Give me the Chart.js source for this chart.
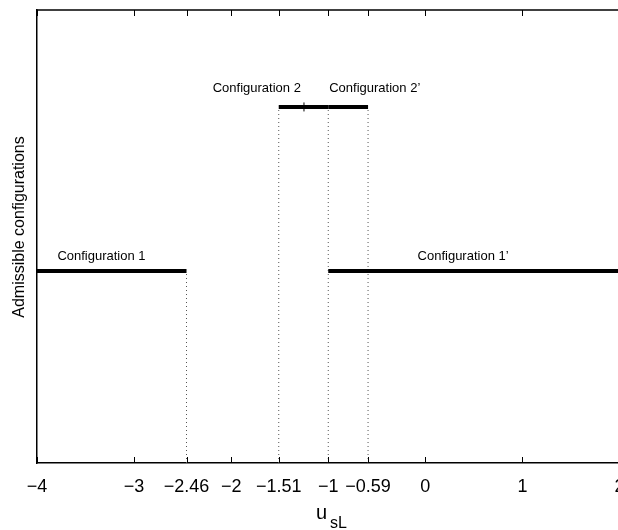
<!DOCTYPE html>
<html>
<head>
<meta charset="utf-8">
<script src="https://cdn.jsdelivr.net/npm/chart.js@4/dist/chart.umd.min.js"></script>
<style>
  body { margin: 0; background: #fff; }
  #wrap { width: 618px; height: 530px; overflow: hidden; }
</style>
</head>
<body>
<div id="wrap"><canvas id="chart" width="625" height="530"></canvas></div>
<script>
// tick positions on the u_sL axis
const xTicks = [-4, -3, -2.46, -2, -1.51, -1, -0.59, 0, 1, 2];

// admissible ranges
const segmentNames = ['Configuration 1', 'Configuration 1\u2019', 'Configuration 2', 'Configuration 2\u2019'];
const segmentStart = [-4, -1, -1.51, -1];
const segmentEnd = [-2.46, 2, -1, -0.59];
const segmentLevel = [0.424, 0.424, 0.786, 0.786];

// label anchors (left edge, vertical middle)
const labelX = [-3.79, -0.08, -2.19, -0.99];
const labelY = [0.457, 0.457, 0.826, 0.826];

// dotted drop lines
const dropX = [-2.46, -1.51, -1, -0.59];
const dropTop = [0.424, 0.786, 0.786, 0.786];

// small mark on configuration 2
const markX = [-1.25];
const markY = [0.786];

const fontFamily = '"Liberation Sans", Arial, Helvetica, sans-serif';

function fmt(v) {
  return v < 0 ? '\u2212' + String(Math.abs(v)) : String(v);
}

const datasets = [];
segmentStart.forEach((s, i) => {
  datasets.push({
    label: segmentNames[i],
    data: [{x: s, y: segmentLevel[i]}, {x: segmentEnd[i], y: segmentLevel[i]}],
    showLine: true,
    borderColor: '#000',
    borderWidth: 4,
    pointRadius: 0,
    borderCapStyle: 'butt'
  });
});
dropX.forEach((x, i) => {
  datasets.push({
    label: 'drop' + i,
    data: [{x: x, y: 0}, {x: x, y: dropTop[i]}],
    showLine: true,
    borderColor: '#555',
    borderWidth: 1,
    borderDash: [1, 3],
    pointRadius: 0
  });
});
datasets.push({
  label: 'mark',
  data: markX.map((x, i) => ({x: x, y: markY[i]})),
  showLine: false,
  pointStyle: 'line',
  rotation: 90,
  pointRadius: 4.5,
  borderColor: '#000',
  borderWidth: 1
});

const extras = {
  id: 'extras',
  afterDraw(chart) {
    const ctx = chart.ctx;
    const xs = chart.scales.x;
    const ys = chart.scales.y;
    const area = chart.chartArea;
    ctx.save();
    // top box line
    ctx.strokeStyle = '#000';
    ctx.lineWidth = 1.5;
    ctx.beginPath();
    ctx.moveTo(area.left, area.top);
    ctx.lineTo(area.right, area.top);
    ctx.stroke();
    // inward ticks, bottom and top
    ctx.lineWidth = 1;
    xTicks.forEach(v => {
      const px = Math.round(xs.getPixelForValue(v)) + 0.5;
      ctx.beginPath();
      ctx.moveTo(px, area.bottom);
      ctx.lineTo(px, area.bottom - 6);
      ctx.moveTo(px, area.top);
      ctx.lineTo(px, area.top + 6);
      ctx.stroke();
    });
    // segment labels
    ctx.fillStyle = '#000';
    ctx.font = '13px ' + fontFamily;
    ctx.textAlign = 'left';
    ctx.textBaseline = 'middle';
    segmentNames.forEach((name, i) => {
      ctx.fillText(name, xs.getPixelForValue(labelX[i]), ys.getPixelForValue(labelY[i]));
    });
    // y axis title
    ctx.save();
    ctx.translate(20, 227);
    ctx.rotate(-Math.PI / 2);
    ctx.textAlign = 'center';
    ctx.font = '16px ' + fontFamily;
    ctx.fillText('Admissible configurations', 0, 0);
    ctx.restore();
    // x axis title u_sL
    ctx.textBaseline = 'alphabetic';
    ctx.font = '20px ' + fontFamily;
    ctx.fillText('u', 316, 519);
    const uw = ctx.measureText('u').width;
    ctx.font = '16px ' + fontFamily;
    ctx.fillText('sL', 316 + uw + 3, 528);
    ctx.restore();
  }
};

new Chart(document.getElementById('chart'), {
  type: 'scatter',
  data: { datasets: datasets },
  options: {
    responsive: false,
    animation: false,
    layout: { padding: { top: 10, right: 4, left: 0, bottom: 0 } },
    plugins: { legend: { display: false }, tooltip: { enabled: false } },
    scales: {
      x: {
        type: 'linear',
        min: -4,
        max: 2,
        afterBuildTicks: scale => { scale.ticks = xTicks.map(v => ({ value: v })); },
        afterFit: scale => { scale.height = 67; scale.paddingLeft = 0; scale.paddingRight = 0; },
        grid: { display: false, drawTicks: false },
        border: { display: true, color: '#000', width: 1.5 },
        ticks: {
          autoSkip: false,
          maxRotation: 0,
          padding: 13,
          color: '#000',
          font: { family: fontFamily, size: 18 },
          callback: v => fmt(v)
        }
      },
      y: {
        min: 0,
        max: 1,
        afterFit: scale => { scale.width = 37; scale.paddingTop = 0; scale.paddingBottom = 0; },
        grid: { display: false, drawTicks: false },
        border: { display: true, color: '#000', width: 1.5 },
        ticks: { display: false },
        title: { display: false }
      }
    }
  },
  plugins: [extras]
});
</script>
</body>
</html>
